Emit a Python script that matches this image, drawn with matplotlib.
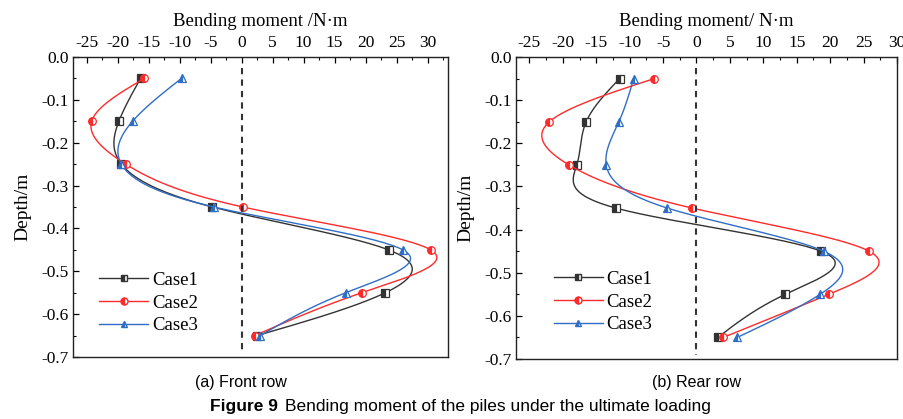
import numpy as np
import matplotlib.pyplot as plt
from matplotlib.ticker import MultipleLocator

depth = [-0.05, -0.15, -0.25, -0.35, -0.45, -0.55, -0.65]

# bending moment (N·m), front row piles
front_case1 = [-16.3, -19.8, -19.4, -4.7, 23.7, 23.2, 2.5]
front_case2 = [-15.7, -24.2, -18.7, 0.2, 30.5, 19.4, 2.1]
front_case3 = [-9.7, -17.6, -19.4, -4.5, 26.0, 16.8, 3.0]

# bending moment (N·m), rear row piles
rear_case1 = [-11.5, -16.5, -17.9, -12.1, 18.6, 13.3, 3.2]
rear_case2 = [-6.3, -22.0, -19.1, -0.7, 25.8, 19.8, 4.0]
rear_case3 = [-9.4, -11.6, -13.5, -4.4, 19.0, 18.5, 6.1]

case_labels = ['Case1', 'Case2', 'Case3']
xticks = [-25, -20, -15, -10, -5, 0, 5, 10, 15, 20, 25, 30]
yticks = [0.0, -0.1, -0.2, -0.3, -0.4, -0.5, -0.6, -0.7]


def natural_spline(t, y, n=200):
    # natural cubic spline y(t) for smooth connecting lines
    t = np.asarray(t, float)
    y = np.asarray(y, float)
    order = np.argsort(t)
    t, y = t[order], y[order]
    k = len(t)
    h = np.diff(t)
    A = np.zeros((k, k))
    b = np.zeros(k)
    A[0, 0] = A[-1, -1] = 1
    for i in range(1, k - 1):
        A[i, i - 1] = h[i - 1]
        A[i, i] = 2 * (h[i - 1] + h[i])
        A[i, i + 1] = h[i]
        b[i] = 6 * ((y[i + 1] - y[i]) / h[i] - (y[i] - y[i - 1]) / h[i - 1])
    M = np.linalg.solve(A, b)
    tt = np.linspace(t[0], t[-1], n)
    idx = np.clip(np.searchsorted(t, tt) - 1, 0, k - 2)
    t0, t1 = t[idx], t[idx + 1]
    hh = t1 - t0
    yy = (M[idx] * (t1 - tt) ** 3 / (6 * hh) + M[idx + 1] * (tt - t0) ** 3 / (6 * hh)
          + (y[idx] / hh - M[idx] * hh / 6) * (t1 - tt)
          + (y[idx + 1] / hh - M[idx + 1] * hh / 6) * (tt - t0))
    return tt, yy


styles = [
    dict(color='#333333', marker='s'),
    dict(color='#ff2a2a', marker='o'),
    dict(color='#2f6ec4', marker='^'),
]

serif = ['Liberation Serif', 'DejaVu Serif']
sans = ['Liberation Sans', 'DejaVu Sans']

fig = plt.figure(figsize=(9.04, 4.19), dpi=100)
ax1 = fig.add_axes([0.0808, 0.148, 0.4148, 0.716])
ax2 = fig.add_axes([0.5708, 0.1432, 0.4215, 0.7208])


def draw_panel(ax, series, xlim, xlabel, legend_loc):
    for vals, st, lab in zip(series, styles, case_labels):
        tt, xx = natural_spline(depth, vals)
        ax.plot(xx, tt, color=st['color'], lw=1.0)
        ax.plot(vals, depth, linestyle='none', marker=st['marker'], ms=5.5,
                color=st['color'], fillstyle='left', markerfacecoloralt='white',
                mec=st['color'], mew=0.9)
        ax.plot([], [], color=st['color'], lw=1.0, marker=st['marker'], ms=5,
                fillstyle='left', markerfacecoloralt='white', label=lab)
    ax.plot([0, 0], [-0.025, -0.69], color='#333333', lw=1.5, ls=(0, (3, 2.5)))
    ax.set_xlim(*xlim)
    ax.set_ylim(-0.7, 0.0)
    ax.xaxis.set_ticks_position('top')
    ax.xaxis.set_label_position('top')
    ax.set_xticks(xticks)
    ax.set_yticks(yticks)
    ax.set_xticklabels([str(v) for v in xticks], family=serif, fontsize=12.5)
    ax.set_yticklabels(['%.1f' % v for v in yticks], family=serif, fontsize=12.5)
    ax.xaxis.set_minor_locator(MultipleLocator(2.5))
    ax.yaxis.set_minor_locator(MultipleLocator(0.05))
    ax.tick_params(which='both', direction='in', top=True, bottom=False,
                   left=True, right=False)
    ax.tick_params(axis='x', pad=4)
    ax.tick_params(axis='y', pad=3)
    ax.tick_params(which='major', length=4, width=0.9)
    ax.tick_params(which='minor', length=2.5, width=0.8)
    ax.set_xlabel(xlabel, family=serif, fontsize=13.5, labelpad=7)
    ax.set_ylabel('Depth/m', family=serif, fontsize=14, labelpad=7)
    for sp in ax.spines.values():
        sp.set_linewidth(1.0)
        sp.set_color('#222222')
    ax.legend(loc='lower left', bbox_to_anchor=legend_loc, frameon=False,
              prop={'family': serif, 'size': 13.5},
              handlelength=2.6, handletextpad=0.2, labelspacing=0.3,
              borderaxespad=0.0)


draw_panel(ax1, [front_case1, front_case2, front_case3], (-27.2, 33.3),
           'Bending moment /N·m', (0.05, 0.05))
draw_panel(ax2, [rear_case1, rear_case2, rear_case3], (-27.0, 29.8),
           'Bending moment/ N·m', (0.08, 0.06))

fig.text(0.266, 0.086, '(a) Front row', ha='center', va='center',
         family=sans, fontsize=11.5)
fig.text(0.771, 0.086, '(b) Rear row', ha='center', va='center',
         family=sans, fontsize=11.5)
fig.text(0.232, 0.031, 'Figure 9', ha='left', va='center',
         family=sans, fontsize=12.5, weight='bold')
fig.text(0.315, 0.031, 'Bending moment of the piles under the ultimate loading',
         ha='left', va='center', family=sans, fontsize=12.5)

fig.savefig('out.png', dpi=100)
